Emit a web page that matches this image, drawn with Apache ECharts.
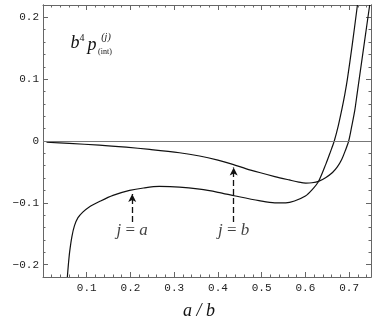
<!DOCTYPE html>
<html>
<head>
<meta charset="utf-8">
<script src="https://cdn.jsdelivr.net/npm/echarts@6/dist/echarts.min.js"></script>
<style>
  html, body { margin: 0; padding: 0; background: #fff; }
  #chart { width: 381px; height: 327px; }
</style>
</head>
<body>
<div id="chart"></div>
<script>
// curve j = a
const xA = [0.0557, 0.058, 0.061, 0.066, 0.072, 0.080, 0.091, 0.105, 0.129, 0.160, 0.198, 0.230, 0.266, 0.312, 0.358, 0.400, 0.440, 0.494, 0.530, 0.555, 0.575, 0.600, 0.615, 0.630, 0.647, 0.657, 0.666, 0.675, 0.683, 0.690, 0.696, 0.707, 0.719];
const yA = [-0.22, -0.20, -0.179, -0.155, -0.137, -0.124, -0.115, -0.107, -0.098, -0.088, -0.080, -0.076, -0.0735, -0.0745, -0.078, -0.083, -0.089, -0.0965, -0.100, -0.100, -0.097, -0.089, -0.079, -0.0654, -0.037, -0.018, 0, 0.024, 0.05, 0.075, 0.1, 0.155, 0.22];
// curve j = b
const xB = [0.008, 0.06, 0.129, 0.19, 0.244, 0.312, 0.358, 0.40, 0.434, 0.465, 0.495, 0.53, 0.563, 0.585, 0.601, 0.615, 0.630, 0.647, 0.662, 0.673, 0.683, 0.691, 0.699, 0.706, 0.713, 0.718, 0.723, 0.735, 0.747];
const yB = [-0.002, -0.004, -0.0067, -0.010, -0.0136, -0.019, -0.0243, -0.031, -0.0377, -0.045, -0.051, -0.0575, -0.063, -0.0665, -0.068, -0.0675, -0.0654, -0.059, -0.051, -0.042, -0.03, -0.016, 0, 0.024, 0.05, 0.075, 0.1, 0.16, 0.22];

// dashed arrows: x, tail y, tip y
const arrowX = [0.204, 0.436];
const arrowTail = [-0.131, -0.131];
const arrowTip = [-0.0857, -0.0428];
const arrowText = ["a", "b"];
const labelY = [-0.1446, -0.1446];

const yMajor = [-0.2, -0.1, 0, 0.1, 0.2];
const yMinor = [];
for (let k = -11; k <= 11; k += 1) {
  if (k % 5 !== 0) yMinor.push(k / 50);
}

const frame = "#666";
const mono = "Liberation Mono";
const serif = "Liberation Serif";

const zip = (xs, ys) => xs.map((x, i) => [x, ys[i]]);

const chart = echarts.init(document.getElementById("chart"));

const xBase = {
  type: "value",
  min: 0,
  max: 0.75,
  interval: 0.1,
  axisLine: { show: true, onZero: false, lineStyle: { color: frame, width: 1 } },
  axisTick: { show: true, inside: true, length: 5, lineStyle: { color: frame } },
  minorTick: { show: true, splitNumber: 5, length: 2.5, lineStyle: { color: frame } },
  splitLine: { show: false },
  minorSplitLine: { show: false },
};

const yBase = {
  type: "value",
  min: -0.22,
  max: 0.22,
  offset: 0,
  axisLine: { show: true, onZero: false, lineStyle: { color: frame, width: 1 } },
  splitLine: { show: false },
};

const fmtY = (v) => {
  if (Math.abs(v) < 1e-9) return "0";
  return (v < 0 ? "\u22120" : "0") + "." + Math.round(Math.abs(v) * 10);
};

chart.setOption({
  animation: false,
  grid: { left: 43, right: 10, top: 5, bottom: 50 },
  xAxis: [
    {
      ...xBase,
      position: "bottom",
      axisLabel: {
        show: true,
        margin: 6,
        color: "#222",
        fontFamily: mono,
        fontSize: 11,
        showMinLabel: false,
        showMaxLabel: false,
        formatter: (v) => (v === 0 || v > 0.72 ? "" : v.toFixed(1)),
      },
    },
    { ...xBase, position: "top", axisLabel: { show: false } },
  ],
  yAxis: [
    {
      ...yBase,
      position: "left",
      axisTick: { show: true, inside: true, length: 5, customValues: yMajor, lineStyle: { color: frame } },
      axisLabel: { show: true, customValues: yMajor, margin: 4, color: "#222", fontFamily: mono, fontSize: 11, formatter: fmtY },
    },
    {
      ...yBase,
      position: "left",
      axisTick: { show: true, inside: true, length: 2.5, customValues: yMinor, lineStyle: { color: frame } },
      axisLabel: { show: false, customValues: yMinor },
    },
    {
      ...yBase,
      position: "right",
      axisTick: { show: true, inside: true, length: 5, customValues: yMajor, lineStyle: { color: frame } },
      axisLabel: { show: false, customValues: yMajor },
    },
    {
      ...yBase,
      position: "right",
      axisTick: { show: true, inside: true, length: 2.5, customValues: yMinor, lineStyle: { color: frame } },
      axisLabel: { show: false, customValues: yMinor },
    },
  ],
  series: [
    {
      type: "line",
      name: "j = b",
      data: zip(xB, yB),
      smooth: 0.3,
      showSymbol: false,
      lineStyle: { color: "#111", width: 1.2 },
      markLine: {
        silent: true,
        symbol: "none",
        label: { show: false },
        lineStyle: { color: "#777", width: 1, type: "solid" },
        data: [{ yAxis: 0 }],
      },
      z: 3,
    },
    {
      type: "line",
      name: "j = a",
      data: zip(xA, yA),
      smooth: 0.3,
      showSymbol: false,
      lineStyle: { color: "#111", width: 1.2 },
      markLine: {
        silent: true,
        symbol: ["none", "arrow"],
        symbolSize: [6, 8],
        label: { show: false },
        lineStyle: { color: "#111", width: 1.3, type: [6, 3] },
        data: arrowX.map((x, i) => [
          { coord: [x, arrowTail[i]] },
          { coord: [x, arrowTip[i]] },
        ]),
      },
      z: 3,
    },
    {
      type: "scatter",
      name: "labels",
      symbolSize: 0,
      silent: true,
      data: arrowX.map((x, i) => ({ value: [x, labelY[i]], name: arrowText[i] })),
      label: {
        show: true,
        position: "inside",
        formatter: (p) => "{i|j}{r| = }{i|" + p.name + "}",
        rich: {
          i: { fontFamily: serif, fontStyle: "italic", fontSize: 17, color: "#111" },
          r: { fontFamily: serif, fontSize: 17, color: "#111" },
        },
      },
    },
  ],
  graphic: [
    { type: "text", style: { text: "b", x: 75, y: 43, textAlign: "center", textVerticalAlign: "middle", font: "italic 18px 'Liberation Serif'", fill: "#111" } },
    { type: "text", style: { text: "4", x: 82, y: 38, textAlign: "center", textVerticalAlign: "middle", font: "10px 'Liberation Serif'", fill: "#111" } },
    { type: "text", style: { text: "p", x: 92, y: 45, textAlign: "center", textVerticalAlign: "middle", font: "italic 18px 'Liberation Serif'", fill: "#111" } },
    { type: "text", style: { text: "(j)", x: 106, y: 37, textAlign: "center", textVerticalAlign: "middle", font: "italic 10px 'Liberation Serif'", fill: "#111" } },
    { type: "text", style: { text: "(int)", x: 105, y: 52, textAlign: "center", textVerticalAlign: "middle", font: "8px 'Liberation Serif'", fill: "#111" } },
    { type: "text", style: { text: "a / b", x: 199, y: 311, textAlign: "center", textVerticalAlign: "middle", font: "italic 18px 'Liberation Serif'", fill: "#111" } },
  ],
});
</script>
</body>
</html>
